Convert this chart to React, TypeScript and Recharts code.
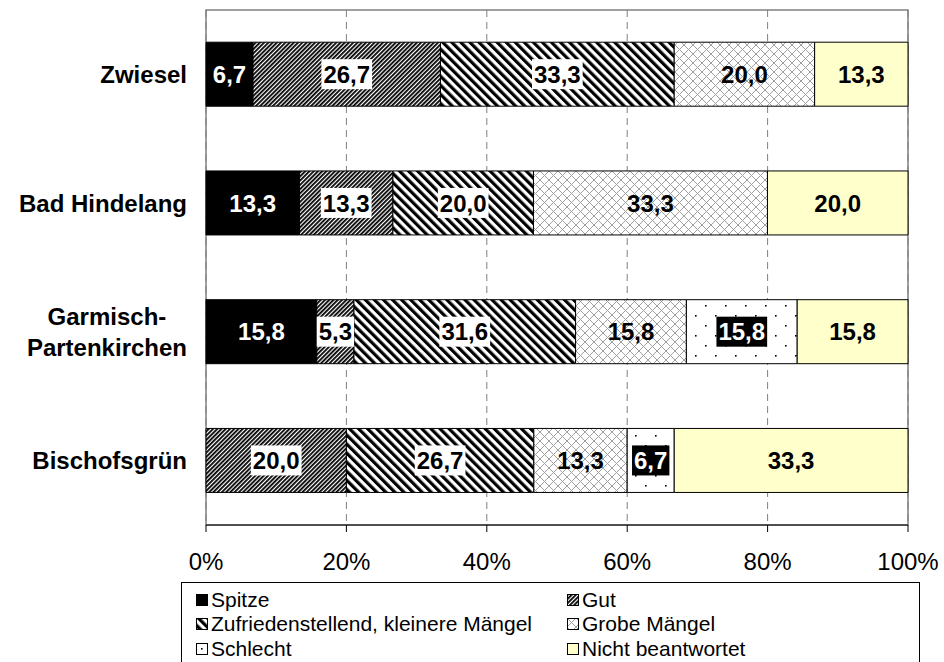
import React from 'react';
import { BarChart, Bar, XAxis, YAxis, CartesianGrid, LabelList, Legend, ReferenceArea } from 'recharts';

const kurorte = ['Zwiesel', 'Bad Hindelang', 'Garmisch-Partenkirchen', 'Bischofsgrün'];

// Anteile der Bewertungen in Prozent
const spitze = [6.7, 13.3, 15.8, 0];
const gut = [26.7, 13.3, 5.3, 20.0];
const zufrieden = [33.3, 20.0, 31.6, 26.7];
const grobeMaengel = [20.0, 33.3, 15.8, 13.3];
const schlecht = [0, 0, 15.8, 6.7];
const nichtBeantwortet = [13.3, 20.0, 15.8, 33.3];

const xTicks = [0, 0.2, 0.4, 0.6, 0.8, 1];
const grenzTicks = [0, 1, 2, 3, 4];

const data = kurorte.map((name, i) => ({
  name,
  spitze: spitze[i],
  gut: gut[i],
  zufrieden: zufrieden[i],
  grobe: grobeMaengel[i],
  schlecht: schlecht[i],
  nicht: nichtBeantwortet[i],
}));

const serien = [
  { key: 'spitze', name: 'Spitze', fill: '#000000', label: 'weiss' },
  { key: 'gut', name: 'Gut', fill: 'url(#muster-gut)', label: 'kasten' },
  { key: 'zufrieden', name: 'Zufriedenstellend, kleinere Mängel', fill: 'url(#muster-zufrieden)', label: 'kasten' },
  { key: 'grobe', name: 'Grobe Mängel', fill: 'url(#muster-grobe)', label: 'schlicht' },
  { key: 'schlecht', name: 'Schlecht', fill: 'url(#muster-schlecht)', label: 'schwarzkasten' },
  { key: 'nicht', name: 'Nicht beantwortet', fill: '#FFFFCC', label: 'schlicht' },
];

const FONT = '"Liberation Sans", Arial, sans-serif';
const FETT = `bold 24px ${FONT}`;

let ctx: CanvasRenderingContext2D | null = null;
const textBreite = (s: string, font: string) => {
  if (!ctx) ctx = document.createElement('canvas').getContext('2d');
  if (!ctx) return s.length * 13;
  ctx.font = font;
  return ctx.measureText(s).width;
};

const formatWert = (v: number) => v.toFixed(1).replace('.', ',');

const makeLabel = (art: string) => (props: any) => {
  const { x, y, width, height, value } = props;
  if (!value) return null;
  const text = formatWert(Number(value));
  const cx = Number(x) + Number(width) / 2;
  const cy = Number(y) + Number(height) / 2;
  const w = textBreite(text, FETT);
  const kasten = art === 'kasten' ? '#ffffff' : art === 'schwarzkasten' ? '#000000' : null;
  const farbe = art === 'weiss' || art === 'schwarzkasten' ? '#ffffff' : '#000000';
  return (
    <g>
      {kasten && <rect x={cx - w / 2 - 2} y={cy - 15} width={w + 4} height={30} fill={kasten} />}
      <text x={cx} y={cy} dy="0.36em" textAnchor="middle" fill={farbe} fontFamily={FONT} fontWeight="bold" fontSize={24}>
        {text}
      </text>
    </g>
  );
};

// Ortsnamen rechtsbündig, zweizeilige Namen zentriert untereinander
const OrtTick = (props: any) => {
  const { x, y, payload } = props;
  const zeilen = String(payload.value).split(/(?<=-)/);
  const breite = Math.max(...zeilen.map((z) => textBreite(z, FETT)));
  const mitte = x - breite / 2;
  const zeilenHoehe = 31;
  const start = y - ((zeilen.length - 1) * zeilenHoehe) / 2;
  return (
    <text textAnchor="middle" fill="#000" fontFamily={FONT} fontWeight="bold" fontSize={24}>
      {zeilen.map((z, i) => (
        <tspan key={i} x={mitte} y={start + i * zeilenHoehe} dy="0.36em">
          {z}
        </tspan>
      ))}
    </text>
  );
};

const Legende = () => (
  <div
    style={{
      boxSizing: 'border-box',
      width: 739,
      height: 80,
      background: '#fff',
      borderTop: '1px solid #000',
      borderLeft: '1px solid #000',
      borderRight: '1px solid #000',
      padding: '5px 0 0 14px',
      display: 'grid',
      gridTemplateColumns: '371px 1fr',
      fontFamily: FONT,
      fontSize: 21,
      color: '#000',
    }}
  >
    {serien.map((s) => (
      <div key={s.key} style={{ display: 'flex', alignItems: 'center', height: 23, whiteSpace: 'nowrap' }}>
        <svg width={12} height={12} style={{ marginRight: 3, flex: 'none' }}>
          <rect x={0.5} y={0.5} width={11} height={11} fill={s.fill} stroke="#000" />
        </svg>
        <span>{s.name}</span>
      </div>
    ))}
  </div>
);

export default function App() {
  return (
    <div style={{ position: 'absolute', left: 0, top: 0, width: 944, height: 662, background: '#fff' }}>
      <BarChart
        width={944}
        height={662}
        data={data}
        layout="vertical"
        stackOffset="expand"
        barCategoryGap="25%"
        margin={{ top: 10, right: 36, left: 0, bottom: 0 }}
        style={{ fontFamily: FONT }}
      >
        <defs>
          <pattern id="muster-gut" width="3" height="3" patternUnits="userSpaceOnUse" patternTransform="rotate(45)">
            <rect width="3" height="3" fill="#fff" />
            <rect width="1.8" height="3" fill="#000" />
          </pattern>
          <pattern id="muster-zufrieden" width="6.4" height="6.4" patternUnits="userSpaceOnUse" patternTransform="rotate(-45)">
            <rect width="6.4" height="6.4" fill="#fff" />
            <rect width="3.2" height="6.4" fill="#000" />
          </pattern>
          <pattern id="muster-grobe" width="9" height="9" patternUnits="userSpaceOnUse">
            <rect width="9" height="9" fill="#fff" />
            <path d="M0,0 L9,9 M9,0 L0,9" stroke="#a0a0a0" strokeWidth="1" />
          </pattern>
          <pattern id="muster-schlecht" width="20" height="20" patternUnits="userSpaceOnUse">
            <rect width="20" height="20" fill="#fff" />
            <rect x="5" y="5" width="1.6" height="1.6" fill="#000" />
            <rect x="15" y="15" width="1.6" height="1.6" fill="#000" />
          </pattern>
        </defs>
        <CartesianGrid horizontal={false} stroke="#808080" strokeDasharray="7 5" />
        {/* Rahmen der Zeichenfläche */}
        <ReferenceArea x1={0} x2={1} fill="none" fillOpacity={0} stroke="#808080" strokeWidth={1.5} ifOverflow="visible" />
        <XAxis
          type="number"
          domain={[0, 1]}
          ticks={xTicks}
          interval={0}
          tickFormatter={(v: number) => `${Math.round(v * 100)}%`}
          tick={{ fill: '#000', fontSize: 24 }}
          tickSize={7}
          tickMargin={21}
          axisLine={{ stroke: '#000' }}
          tickLine={{ stroke: '#000' }}
          height={57}
        />
        <YAxis
          yAxisId="striche"
          type="number"
          domain={[0, 4]}
          ticks={grenzTicks}
          interval={0}
          width={0}
          tickSize={8}
          tick={() => <g />}
          axisLine={{ stroke: '#000' }}
          tickLine={{ stroke: '#000' }}
        />
        <YAxis
          type="category"
          dataKey="name"
          width={206}
          axisLine={false}
          tickLine={false}
          tickSize={8}
          tickMargin={11}
          interval={0}
          tick={<OrtTick />}
        />
        <YAxis
          yAxisId="rand"
          orientation="right"
          type="number"
          domain={[0, 4]}
          width={0}
          tick={false}
          tickLine={false}
          axisLine={{ stroke: '#404040' }}
        />
        {serien.map((s) => (
          <Bar
            key={s.key}
            dataKey={s.key}
            name={s.name}
            stackId="a"
            fill={s.fill}
            stroke="#000"
            strokeWidth={1}
            isAnimationActive={false}
          >
            <LabelList dataKey={s.key} content={makeLabel(s.label)} />
          </Bar>
        ))}
        <Legend verticalAlign="bottom" wrapperStyle={{ left: 181, width: 739 }} content={() => <Legende />} />
      </BarChart>
    </div>
  );
}
